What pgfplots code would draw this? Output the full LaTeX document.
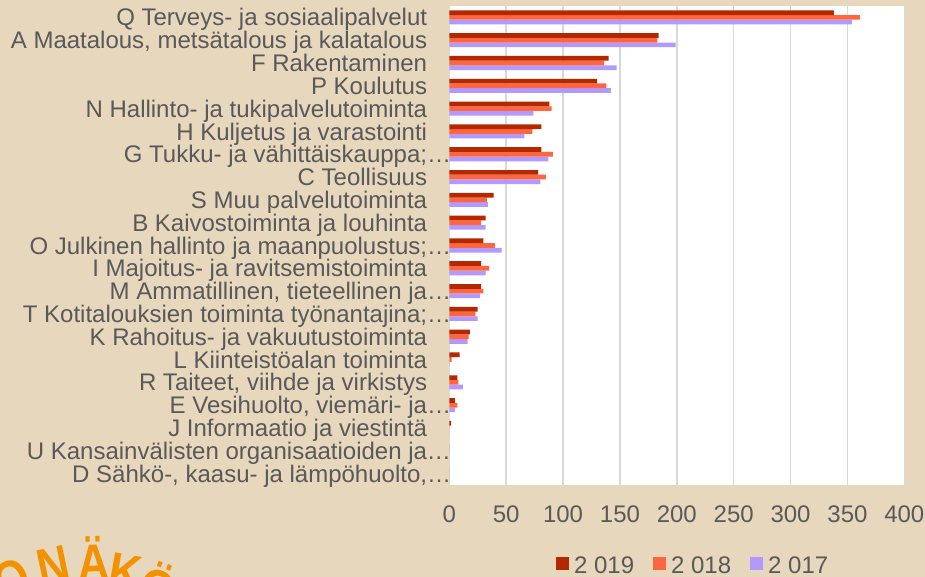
\documentclass[border=0pt]{standalone}
\usepackage{pgfplots}
\pgfplotsset{compat=1.18}
\usepackage{pgfplotstable}
\usepackage{fontspec}
\setmainfont{Liberation Sans}
\definecolor{bg}{RGB}{231,215,189}
\definecolor{labelgray}{RGB}{89,89,89}
\definecolor{gridgray}{RGB}{217,217,217}
\definecolor{c2019}{RGB}{180,40,0}
\definecolor{c2018}{RGB}{255,102,61}
\definecolor{c2017}{RGB}{178,153,255}
\definecolor{logo}{RGB}{243,146,0}

% idx: 20 = Q (top) ... 0 = D (bottom)
\pgfplotstableread{
idx y2019 y2018 y2017
20 338 361 354
19 184 183 199
18 140 136 147
17 130 138 142
16 88 90 74
15 81 73 66
14 81 91 87
13 78 85 80
12 39 33 34
11 32 28 32
10 30 40 46
9 28 35 32
8 28 30 27
7 25 23 25
6 18 17 16
5 9 2 0
4 7 8 12
3 5 7 5
2 1.5 0 0
1 0 0 0
0 0 0 0
}\datatable

\begin{document}
\begin{tikzpicture}[x=1bp,y=1bp]
\useasboundingbox (0,0) rectangle (925,577);
\fill[bg] (0,0) rectangle (925,577);
\begin{scope}
\clip (0,0) rectangle (925,577);
\begin{scope}[every node/.style={inner sep=0pt, text=logo, font=\fontsize{52bp}{52bp}\selectfont\bfseries}]
\node[anchor=north, rotate=24, xscale=0.85] at (4,15) {O};
\node[anchor=north, rotate=12, xscale=0.85] at (50,29) {N};
\node[anchor=north, rotate=2, xscale=0.85] at (93,41) {Ä};
\node[anchor=north, rotate=-10, xscale=0.85] at (128,22) {K};
\node[anchor=north, rotate=-20, xscale=0.85] at (166,14) {Ö};
\end{scope}
\end{scope}
\begin{axis}[
  at={(449.3bp,92bp)}, anchor=south west,
  scale only axis, width=455bp, height=479bp,
  xmin=0, xmax=400, ymin=-0.5, ymax=20.5,
  xbar=0pt, bar width=4.7bp,
  axis background/.style={fill=white},
  axis line style={draw=none},
  xmajorgrids, major grid style={draw=gridgray, line width=1.5bp},
  major tick length=0,
  xtick={0,50,...,400},
  ytick={0,...,20},
  yticklabels={
    {D Sähkö-, kaasu- ja lämpöhuolto,\rlap{…}},
    {U Kansainvälisten organisaatioiden ja\rlap{…}},
    {J Informaatio ja viestintä},
    {E Vesihuolto, viemäri- ja\rlap{…}},
    {R Taiteet, viihde ja virkistys},
    {L Kiinteistöalan toiminta},
    {K Rahoitus- ja vakuutustoiminta},
    {T Kotitalouksien toiminta työnantajina;\rlap{…}},
    {M Ammatillinen, tieteellinen ja\rlap{…}},
    {I Majoitus- ja ravitsemistoiminta},
    {O Julkinen hallinto ja maanpuolustus;\rlap{…}},
    {B Kaivostoiminta ja louhinta},
    {S Muu palvelutoiminta},
    {C Teollisuus},
    {G Tukku- ja vähittäiskauppa;\rlap{…}},
    {H Kuljetus ja varastointi},
    {N Hallinto- ja tukipalvelutoiminta},
    {P Koulutus},
    {F Rakentaminen},
    {{A Maatalous, metsätalous ja kalatalous}},
    {Q Terveys- ja sosiaalipalvelut}},
  yticklabel style={font=\fontsize{24bp}{26bp}\selectfont, text=labelgray, anchor=base east, inner sep=0pt, xshift=-22bp, yshift=-8.6bp},
  xticklabel style={font=\fontsize{24bp}{26bp}\selectfont, text=labelgray, anchor=base, inner sep=0pt, yshift=-37.5bp},
  /pgf/number format/assume math mode=true,
  /pgf/number format/1000 sep={},
  reverse legend,
  legend columns=3,
  legend style={draw=none, fill=none, at={(0.536,-0.168)}, anchor=center,
    font=\fontsize{24bp}{26bp}\selectfont, text=labelgray,
    /tikz/every even column/.append style={column sep=17bp},
    /tikz/every odd column/.append style={column sep=3bp},
    nodes={inner sep=2bp}},
  legend image code/.code={\fill[#1] (-2bp,-5bp) rectangle (11bp,8bp);},
]
\addplot[draw=none, fill=c2017] table[x=y2017, y=idx] {\datatable};
\addplot[draw=none, fill=c2018] table[x=y2018, y=idx] {\datatable};
\addplot[draw=none, fill=c2019] table[x=y2019, y=idx] {\datatable};
\legend{2 017, 2 018, 2 019}
\end{axis}
\end{tikzpicture}
\end{document}
